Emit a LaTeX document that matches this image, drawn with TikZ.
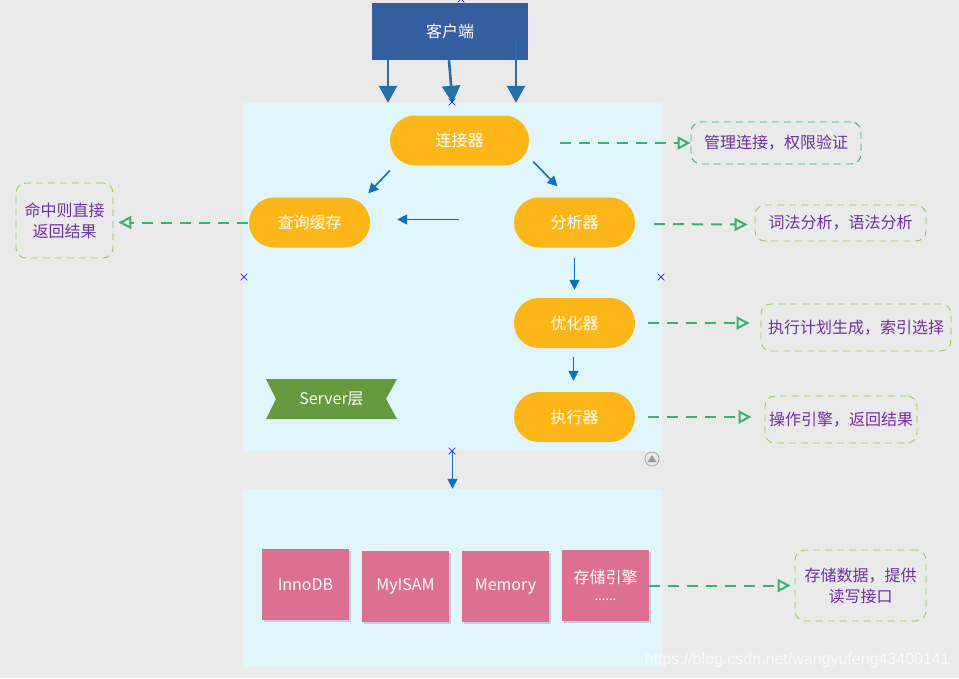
\documentclass[tikz,border=0pt]{standalone}
\usepackage{fontspec}
\setmainfont{Noto Sans CJK SC}
\newfontfamily\wmfont{Liberation Sans}
\usetikzlibrary{arrows.meta,shapes.misc,shadows}
\definecolor{bggray}{RGB}{234,234,234}
\definecolor{panelblue}{RGB}{225,245,252}
\definecolor{clientblue}{RGB}{52,94,159}
\definecolor{headblue}{RGB}{36,113,165}
\definecolor{flowblue}{RGB}{16,112,192}
\definecolor{pillorange}{RGB}{253,182,24}
\definecolor{enginepink}{RGB}{220,111,146}
\definecolor{bannergreen}{RGB}{101,154,62}
\definecolor{notegreen}{RGB}{60,176,112}
\definecolor{lightgreen}{RGB}{146,208,80}
\definecolor{notepurple}{RGB}{112,48,160}
\begin{document}
\begin{tikzpicture}[x=1pt,y=-1pt,
  txt/.style={font=\fontsize{16}{21}\selectfont},
  panel/.style={fill=panelblue, inner sep=0},
  pill/.style={txt, rectangle, rounded corners=25pt, fill=pillorange, text=white, minimum height=50pt, inner sep=0},
  enginebox/.style={txt, fill=enginepink, text=white, align=center, minimum width=87pt, minimum height=71pt, inner sep=0,
    drop shadow={shadow xshift=2pt, shadow yshift=-2pt, opacity=0.15, fill=black}},
  notebox/.style={txt, draw=lightgreen, line width=0.9pt, dash pattern=on 7pt off 5pt, rounded corners=10pt,
    text=notepurple, align=center, inner sep=0},
  bigarrow/.style={draw=headblue, line width=2.6pt, -{Triangle[width=18pt,length=17pt]}},
  flowarrow/.style={draw=flowblue, line width=1.6pt, -{Triangle[width=10pt,length=10pt]}},
  notearrow/.style={draw=notegreen, line width=2pt, dash pattern=on 11pt off 8pt,
    -{Triangle[open,width=13pt,length=13pt,line width=2pt]}},
  handle/.style={cross out, draw=blue, line width=0.6pt, minimum size=6pt, inner sep=0}]

% background
\fill[bggray] (0,0) rectangle (959,678);
\useasboundingbox (0,0) rectangle (959,678);

% client
\node[txt, fill=clientblue, text=white, minimum width=156pt, minimum height=57pt, inner sep=0] (client) at (450,31.5) {客户端};

% layers
\node[panel, minimum width=419pt, minimum height=348pt] (server) at (452.5,277) {};
\node[panel, minimum width=419pt, minimum height=178pt] (storage) at (452.5,578) {};

% client -> server
\draw[bigarrow] ([xshift=-62pt]client.south) -- ([xshift=-64.5pt]server.north);
\draw[bigarrow] ([xshift=-1pt]client.south) -- (server.north);
\draw[bigarrow] ([xshift=66pt,yshift=20pt]client.south) -- ([xshift=63.5pt]server.north);

% server components
\node[pill, minimum width=139pt] (conn) at (459.5,140.5) {连接器};
\node[pill, minimum width=121pt] (cache) at (309.5,222.5) {查询缓存};
\node[pill, minimum width=121pt] (parser) at (574.5,222.5) {分析器};
\node[pill, minimum width=121pt] (optim) at (574.5,323) {优化器};
\node[pill, minimum width=121pt] (exec) at (574.5,417) {执行器};

\draw[flowarrow] ([yshift=-5pt]conn.south west) -- ([xshift=-2pt,yshift=4pt]cache.north east);
\draw[flowarrow] ([xshift=4pt,yshift=4pt]conn.south east) -- ([xshift=-17pt,yshift=11pt]parser.north);
\draw[flowarrow, shorten <=55pt, shorten >=27pt] ([yshift=3pt]parser.west) -- ([yshift=3pt]cache.east);
\draw[flowarrow, shorten <=10pt, shorten >=8pt] (parser.south) -- (optim.north);
\draw[flowarrow, shorten <=9pt, shorten >=11pt] ([xshift=-1pt]optim.south) -- ([xshift=-1pt]exec.north);
\draw[flowarrow] (server.south) -- (storage.north);

% server layer banner
\fill[bannergreen] (266,379) -- (397,379) -- (386,399) -- (397,419) -- (266,419) -- (276,399) -- cycle;
\node[txt, text=white] (srvtag) at (331.5,399) {Server层};

% storage engines
\node[enginebox] (innodb) at (305.5,584.5) {InnoDB};
\node[enginebox] (myisam) at (405.5,586) {MyISAM};
\node[enginebox] (memory) at (505.5,586) {Memory};
\node[enginebox] (others) at (605.5,585.5) {存储引擎\\[-4pt]{\fontsize{13}{13}\selectfont ......}};

% notes
\node[notebox, draw=notegreen, minimum width=170pt, minimum height=42pt] (noteconn) at (776,143) {管理连接，权限验证};
\node[notebox, minimum width=171pt, minimum height=36pt] (noteparse) at (840.5,223) {词法分析，语法分析};
\node[notebox, minimum width=190pt, minimum height=47pt] (noteoptim) at (856,327.5) {执行计划生成，索引选择};
\node[notebox, minimum width=152pt, minimum height=47pt] (noteexec) at (841,419.5) {操作引擎，返回结果};
\node[notebox, minimum width=131pt, minimum height=71pt] (notestore) at (860.5,585.5) {存储数据，提供\\读写接口};
\node[notebox, minimum width=97pt, minimum height=75pt] (notecache) at (64.5,220.5) {命中则直接\\返回结果};

\draw[notearrow, shorten <=31pt] (noteconn.west -| conn.east) -- (noteconn.west);
\draw[notearrow, shorten <=19pt, shorten >=7pt] ([yshift=-1.5pt]parser.east) -- ([yshift=-1.5pt]noteparse.west -| noteparse.west);
\draw[notearrow, shorten <=13pt, shorten >=11pt] (optim.east) -- (noteoptim.west |- optim.east);
\draw[notearrow, shorten <=13pt, shorten >=13pt] (exec.east) -- (noteexec.west |- exec.east);
\draw[notearrow, shorten >=4pt] (others.east |- notestore.west) -- (notestore.west);
\draw[notearrow, shorten <=1pt, shorten >=5pt] (cache.west) -- (notecache.east |- cache.west);

% selection handles
\node[handle] (h1) at (452,102) {};
\node[handle] (h2) at (244,277) {};
\node[handle] (h3) at (661,277) {};
\node[handle] (h4) at (452,451) {};
\node[handle] (h5) at (461,-1) {};

% collapse icon
\draw[gray!70, line width=0.8pt] (652,459) circle (7pt);
\fill[gray!80] (647.5,462) -- (656.5,462) -- (652,455) -- cycle;

% watermark
\node[font=\wmfont\fontsize{16}{16}\selectfont, text=white, opacity=0.75, anchor=east, inner sep=0] (mark) at (950,660) {https://blog.csdn.net/wangyufeng43400141};
\end{tikzpicture}
\end{document}
